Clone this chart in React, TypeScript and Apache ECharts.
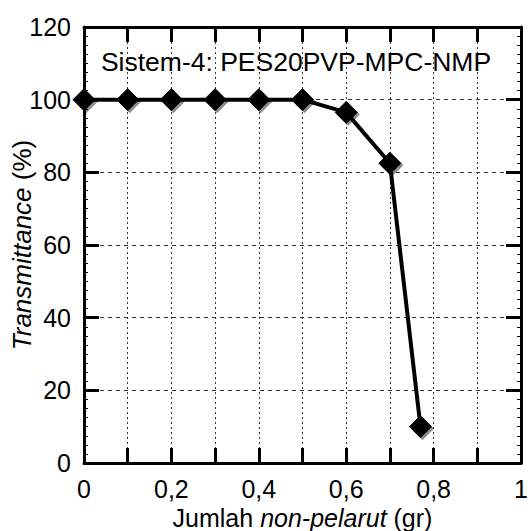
import React, { useEffect, useRef } from "react";
import * as echarts from "echarts";

const xValues = [0, 0.1, 0.2, 0.3, 0.4, 0.5, 0.6, 0.7, 0.77];
const yValues = [100, 100, 100, 100, 100, 100, 96.5, 82.5, 10];
const titleText = "Sistem-4: PES20PVP-MPC-NMP";
const xName = "Jumlah {i|non-pelarut} (gr)";
const yName = "{i|Transmittance} (%)";

const FONT = "'Liberation Sans', Arial, Helvetica, sans-serif";

export default function App() {
  const ref = useRef<HTMLDivElement>(null);
  useEffect(() => {
    if (!ref.current) return;
    const chart = echarts.init(ref.current, undefined, { renderer: "svg" });
    const data = xValues.map((x, i) => [x, yValues[i]]);
    const gridL = 84, gridT = 27, gridR = 7, gridB = 68;
    const axisLine = { show: true, onZero: false, lineStyle: { color: "#000", width: 3 } };
    const majorTick = { show: true, inside: true, length: 15, lineStyle: { color: "#000", width: 3 } };
    const minorTick = { show: true, splitNumber: 8, length: 4, lineStyle: { color: "#000", width: 1 } };
    chart.setOption({
      animation: false,
      backgroundColor: "#fff",
      textStyle: { fontFamily: FONT },
      grid: {
        left: gridL,
        top: gridT,
        right: gridR,
        bottom: gridB,
        containLabel: false,
        outerBoundsMode: "none",
      },
      graphic: [
        {
          type: "text",
          x: 296,
          y: 62,
          style: {
            text: titleText,
            fontSize: 26.5,
            fontFamily: FONT,
            fill: "#000",
            align: "center",
            verticalAlign: "middle",
          },
          z: 10,
        },
      ],
      xAxis: [
        {
          type: "value",
          min: 0,
          max: 1,
          interval: 0.1,
          position: "bottom",
          axisLine,
          axisTick: majorTick,
          axisLabel: {
            color: "#000",
            fontSize: 25,
            fontFamily: FONT,
            margin: 13,
            showMinLabel: true,
            showMaxLabel: true,
            hideOverlap: false,
            formatter: (v: number) => {
              const t = Math.round(v * 10);
              if (t % 2 !== 0) return "";
              return String(t / 10).replace(".", ",");
            },
          },
          splitLine: { show: true, lineStyle: { color: "#333", width: 1, type: [2, 3] } },
          name: xName,
          nameLocation: "middle",
          nameGap: 38,
          nameTextStyle: {
            color: "#000",
            fontSize: 25,
            fontFamily: FONT,
            rich: { i: { fontStyle: "italic", fontSize: 25, fontFamily: FONT, color: "#000" } },
          },
        },
        {
          type: "value",
          min: 0,
          max: 1,
          interval: 0.1,
          position: "top",
          axisLine,
          axisTick: majorTick,
          axisLabel: { show: false },
          splitLine: { show: false },
        },
      ],
      yAxis: [
        {
          type: "value",
          min: 0,
          max: 120,
          interval: 20,
          position: "left",
          axisLine,
          axisTick: majorTick,
          minorTick,
          axisLabel: { color: "#000", fontSize: 25, fontFamily: FONT, margin: 13 },
          splitLine: { show: true, lineStyle: { color: "#333", width: 1, type: [4, 4] } },
          name: yName,
          nameLocation: "middle",
          nameRotate: 90,
          nameGap: 49,
          nameMoveOverlap: false,
          nameTextStyle: {
            color: "#000",
            fontSize: 26,
            fontFamily: FONT,
            rich: { i: { fontStyle: "italic", fontSize: 26, fontFamily: FONT, color: "#000" } },
          },
        },
        {
          type: "value",
          min: 0,
          max: 120,
          interval: 20,
          position: "right",
          axisLine,
          axisTick: majorTick,
          minorTick,
          axisLabel: { show: false },
          splitLine: { show: false },
        },
      ],
      series: [
        {
          type: "line",
          data,
          xAxisIndex: 0,
          yAxisIndex: 0,
          clip: false,
          symbol: "diamond",
          symbolSize: 22,
          lineStyle: { color: "#000", width: 4 },
          itemStyle: {
            color: "#000",
            borderColor: "#000",
            borderWidth: 1,
            shadowColor: "rgba(0,0,0,0.45)",
            shadowOffsetX: 2,
            shadowOffsetY: 2,
            shadowBlur: 0,
          },
          z: 5,
        },
      ],
    });
    return () => chart.dispose();
  }, []);
  return (
    <div
      ref={ref}
      style={{ position: "fixed", left: 0, top: 0, width: 528, height: 531, background: "#fff" }}
    />
  );
}
